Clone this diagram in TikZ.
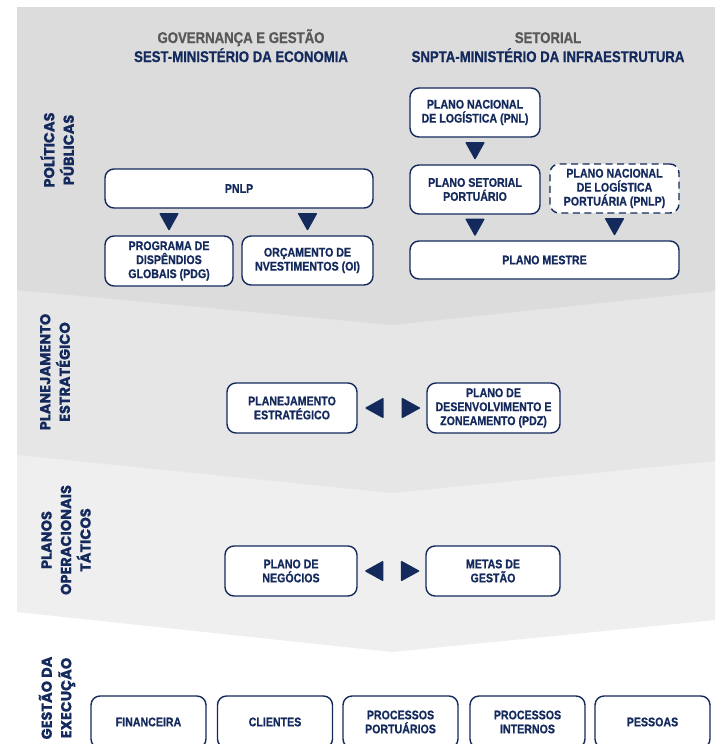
\documentclass[tikz,border=0pt]{standalone}
\usepackage{fontspec}
\usetikzlibrary{calc}
\newfontfamily\condf[FakeStretch=0.85, FakeBold=0.8]{Liberation Sans Bold}
\newfontfamily\labf[FakeBold=0.6]{Poppins Bold}
\definecolor{navy}{HTML}{142A5C}
\definecolor{hgray}{HTML}{585858}
\definecolor{bandA}{HTML}{DCDCDC}
\definecolor{bandB}{HTML}{E6E6E6}
\definecolor{bandC}{HTML}{EFEFEF}
\tikzset{
  box/.style={draw=navy, line width=1.4pt, fill=white, rounded corners=9pt,
    align=center, text=navy, inner sep=0pt,
    font=\condf\fontsize{12.5}{14}\selectfont},
  dbox/.style={box, dash pattern=on 7pt off 4.5pt},
  lanelabel/.style={rotate=90, align=center, text=navy,
    font=\labf\fontsize{14.5}{19.5}\selectfont},
  header/.style={anchor=base, font=\condf\fontsize{15.5}{19}\selectfont},
  tridown/.pic={\fill[navy, rounded corners=1pt] (-10,-9) -- (10,-9) -- (0,9) -- cycle;},
  trileft/.pic={\fill[navy, rounded corners=1pt] (9.5,-10.5) -- (9.5,10.5) -- (-9.5,0) -- cycle;},
  triright/.pic={\fill[navy, rounded corners=1pt] (-9.5,-10.5) -- (-9.5,10.5) -- (9.5,0) -- cycle;}
}
\begin{document}
\begin{tikzpicture}[x=1pt,y=-1pt]
\useasboundingbox (0,0) rectangle (715,744);
\clip (0,0) rectangle (715,744);
\fill[white] (0,0) rectangle (715,744);
% bands
\fill[bandC] (17,440) -- (715,440) -- (715,620) -- (392,652) -- (17,612) -- cycle;
\fill[bandB] (17,280) -- (715,280) -- (715,461) -- (392,493) -- (17,455) -- cycle;
\fill[bandA] (17,7) -- (715,7) -- (715,291) -- (392,325) -- (17,290) -- cycle;

% headers
\node[header, text=hgray] (h1a) at (241,43) {GOVERNANÇA E GESTÃO};
\node[header, text=navy] (h1b) at (241,62) {SEST-MINISTÉRIO DA ECONOMIA};
\node[header, text=hgray] (h2a) at (548,43) {SETORIAL};
\node[header, text=navy] (h2b) at (548,62) {SNPTA-MINISTÉRIO DA INFRAESTRUTURA};

% lane labels
\node[lanelabel] (l1) at (57,150) {POLÍTICAS\\PÚBLICAS};
\node[lanelabel] (l2) at (55,372) {PLANEJAMENTO\\ESTRATÉGICO};
\node[lanelabel] (l3) at (66,540) {PLANOS\\OPERACIONAIS\\TÁTICOS};
\node[lanelabel] (l4) at (57,698) {GESTÃO DA\\EXECUÇÃO};

% politicas publicas - left
\node[box, minimum width=268pt, minimum height=39pt] (pnlp) at (239,188.5) {PNLP};
\node[box, minimum width=128pt, minimum height=50pt] (pdg) at (169,261) {PROGRAMA DE\\DISPÊNDIOS\\GLOBAIS (PDG)};
\node[box, minimum width=131pt, minimum height=49pt] (oi) at (307.5,260.5) {ORÇAMENTO DE\\NVESTIMENTOS (OI)};
% politicas publicas - right
\node[box, minimum width=130pt, minimum height=49pt] (pnl) at (475,112.5) {PLANO NACIONAL\\DE LOGÍSTICA (PNL)};
\node[box, minimum width=130pt, minimum height=49pt] (psp) at (475,189.5) {PLANO SETORIAL\\PORTUÁRIO};
\node[dbox, minimum width=129pt, minimum height=49pt] (pnlp2) at (614.5,188.5) {PLANO NACIONAL\\DE LOGÍSTICA\\PORTUÁRIA (PNLP)};
\node[box, minimum width=269pt, minimum height=38pt] (mestre) at (544.5,260) {PLANO MESTRE};

% planejamento estrategico
\node[box, minimum width=130pt, minimum height=50pt] (pe) at (292,408) {PLANEJAMENTO\\ESTRATÉGICO};
\node[box, minimum width=133pt, minimum height=50pt] (pdz) at (493.5,408) {PLANO DE\\DESENVOLVIMENTO E\\ZONEAMENTO (PDZ)};

% planos operacionais
\node[box, minimum width=132pt, minimum height=50pt] (pn) at (291,571) {PLANO DE\\NEGÓCIOS};
\node[box, minimum width=134pt, minimum height=50pt] (metas) at (493,571) {METAS DE\\GESTÃO};

% gestao da execucao
\node[box, minimum width=115pt, minimum height=52pt] (fin) at (148.5,722) {FINANCEIRA};
\node[box, minimum width=115pt, minimum height=52pt] (cli) at (275,722) {CLIENTES};
\node[box, minimum width=115pt, minimum height=52pt] (ppo) at (400.5,722) {PROCESSOS\\PORTUÁRIOS};
\node[box, minimum width=115pt, minimum height=52pt] (pin) at (527.5,722) {PROCESSOS\\INTERNOS};
\node[box, minimum width=115pt, minimum height=52pt] (pes) at (652.5,722) {PESSOAS};

% arrow markers
\coordinate (a1) at ($(pnlp.south -| pdg.north)!0.5!(pdg.north)$);
\coordinate (a2) at ($(pnlp.south -| oi.north)!0.5!(oi.north)$);
\coordinate (a3) at ($(pnl.south)!0.5!(psp.north)$);
\coordinate (a4) at ($(psp.south)!0.5!(psp.south |- mestre.north)$);
\coordinate (a5) at ($(pnlp2.south)!0.5!(pnlp2.south |- mestre.north)$);
\coordinate (b1) at ($(pe.east)!0.24!(pdz.west)$);
\coordinate (b2) at ($(pe.east)!0.78!(pdz.west)$);
\coordinate (c1) at ($(pn.east)!0.24!(metas.west)$);
\coordinate (c2) at ($(pn.east)!0.78!(metas.west)$);
\pic at (a1) {tridown};
\pic at (a2) {tridown};
\pic at (a3) {tridown};
\pic at (a4) {tridown};
\pic at (a5) {tridown};
\pic at (b1) {trileft};
\pic at (b2) {triright};
\pic at (c1) {trileft};
\pic at (c2) {triright};
\end{tikzpicture}
\end{document}
